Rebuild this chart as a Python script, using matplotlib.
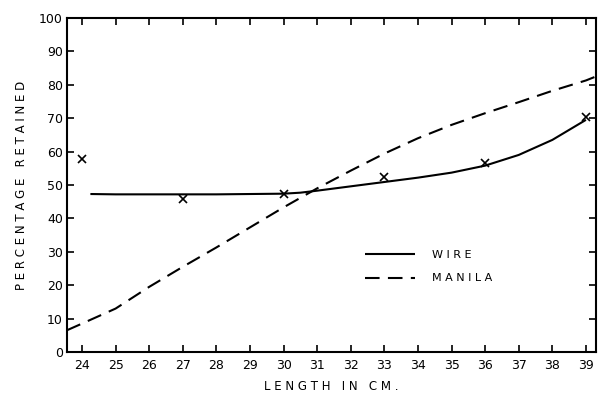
import matplotlib
matplotlib.use("Agg")
import matplotlib.pyplot as plt
import numpy as np

# Data
wire_x = [24.25, 25, 26, 27, 28, 29, 30, 30.5, 31, 32, 33, 34, 35, 36, 37, 38, 39]
wire_y = [47.3, 47.2, 47.2, 47.2, 47.2, 47.3, 47.4, 47.7, 48.3, 49.6, 50.9, 52.2, 53.7, 55.8, 59.0, 63.5, 69.5]
manila_x = [23.55, 24, 25, 26, 27, 28, 29, 30, 31, 32, 33, 34, 35, 36, 37, 38, 39, 39.3]
manila_y = [6.5, 8.5, 13.0, 19.5, 25.5, 31.3, 37.3, 43.3, 49.0, 54.3, 59.4, 64.0, 68.0, 71.5, 74.8, 78.2, 81.3, 82.5]
obs_x = [24, 27, 30, 33, 36, 39]
obs_y = [57.8, 45.8, 47.3, 52.4, 56.6, 70.4]
x_ticks = list(range(24, 40))
y_ticks = list(range(0, 101, 10))

fig = plt.figure(figsize=(5.99, 3.94), dpi=100)
ax = fig.add_axes([67/599, 42/394, 529/599, 334/394])

ax.plot(wire_x, wire_y, color="black", lw=1.5, solid_capstyle="butt", label="W I R E")
ax.plot(manila_x, manila_y, color="black", lw=1.5, dashes=(7, 4), label="M A N I L A")
ax.plot(obs_x, obs_y, linestyle="none", marker="x", color="black", ms=6, mew=1.2)

ax.set_xlim(23.554, 39.30)
ax.set_ylim(0, 100)
ax.set_xticks(x_ticks)
ax.set_yticks(y_ticks)
ax.set_xticklabels([str(v) for v in x_ticks], fontsize=9)
ax.set_yticklabels([str(v) for v in y_ticks], fontsize=9)
ax.tick_params(axis="x", direction="in", length=5, width=1.2, top=True, pad=5)
ax.tick_params(axis="y", direction="in", length=5, width=1.2, right=True, pad=3)
for s in ax.spines.values():
    s.set_linewidth(1.5)

ax.set_xlabel("L E N G T H   I N   C M .", fontsize=8.5, labelpad=6)
ax.set_ylabel("P E R C E N T A G E   R E T A I N E D", fontsize=8.5, labelpad=8)

ax.legend(loc="upper left", bbox_to_anchor=(0.545, 0.335), frameon=False,
          handlelength=4.5, fontsize=8, handletextpad=1.5, labelspacing=1.2)

fig.savefig("out.png", dpi=100)
